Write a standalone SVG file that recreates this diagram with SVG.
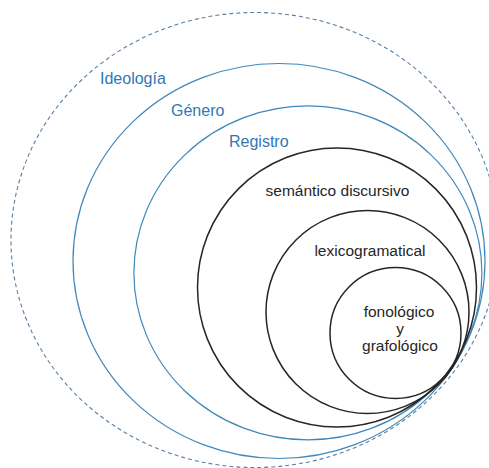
<svg xmlns="http://www.w3.org/2000/svg" width="489" height="468" viewBox="0 0 489 468">
  <style>
    .blue { fill: none; stroke: #4188BA; stroke-width: 1.2; }
    .dash { fill: none; stroke: #587FA3; stroke-width: 1.1; stroke-dasharray: 4 3; }
    .black { fill: none; stroke: #262626; stroke-width: 1.5; }
    .lblue { font-family: "Liberation Sans", Arial, sans-serif; font-size: 16px; fill: #2F78B4; }
    .lblack { font-family: "Liberation Sans", Arial, sans-serif; font-size: 15.5px; fill: #262626; text-anchor: middle; }
  </style>
  <rect width="489" height="468" fill="#ffffff"/>
  <g id="ideologia">
    <ellipse class="dash" cx="255" cy="240" rx="244" ry="227.5"/>
    <text class="lblue" x="100" y="84">Ideología</text>
  </g>
  <g id="genero">
    <ellipse class="blue" cx="279" cy="261" rx="206" ry="197.5"/>
    <text class="lblue" x="171" y="116">Género</text>
  </g>
  <g id="registro">
    <ellipse class="blue" cx="307.9" cy="272.9" rx="174" ry="167"/>
    <text class="lblue" x="229" y="147">Registro</text>
  </g>
  <g id="semantico">
    <circle class="black" cx="337" cy="287.5" r="139.5"/>
    <text class="lblack" x="337.5" y="196">semántico discursivo</text>
  </g>
  <g id="lexicogramatical">
    <circle class="black" cx="367.5" cy="312" r="101.5"/>
    <text class="lblack" x="370" y="255.5">lexicogramatical</text>
  </g>
  <g id="fonologico">
    <circle class="black" cx="395.5" cy="333" r="65.5"/>
    <text class="lblack" x="399" y="317">fonológico</text>
    <text class="lblack" x="400" y="333.5">y</text>
    <text class="lblack" x="400" y="351">grafológico</text>
  </g>
  <g id="connectors"/>
</svg>
